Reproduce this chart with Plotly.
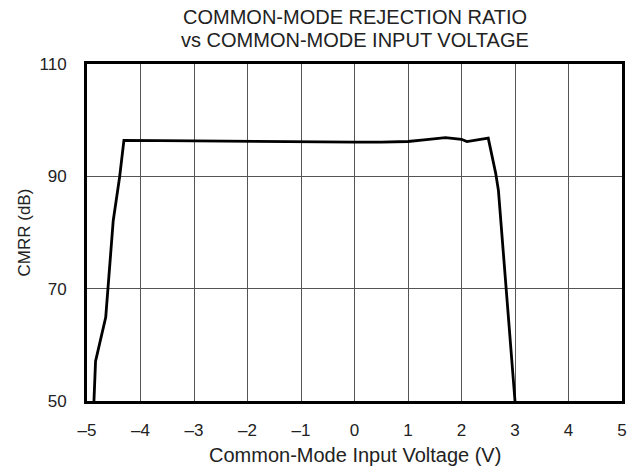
import plotly.graph_objects as go

# CMRR vs common-mode input voltage
volts = [-4.87, -4.84, -4.65, -4.51, -4.39, -4.31, -3.0, -2.0, -1.0, 0.0, 0.5, 1.0, 1.3,
         1.7, 2.0, 2.1, 2.5, 2.64, 2.69, 3.0]
cmrr = [50.0, 57.1, 64.9, 82.1, 89.9, 96.4, 96.3, 96.2, 96.1, 96.1, 96.1, 96.2, 96.5,
        96.9, 96.6, 96.2, 96.8, 90.5, 87.5, 50.0]

x_ticks = [-5, -4, -3, -2, -1, 0, 1, 2, 3, 4, 5]
x_labels = ["–5", "–4", "–3", "–2", "–1", "0", "1", "2", "3", "4", "5"]
y_ticks = [50, 70, 90, 110]

font = "Liberation Sans, Arial, sans-serif"
txt = "#222"

fig = go.Figure()
fig.add_trace(go.Scatter(x=volts, y=cmrr, mode="lines",
                         line=dict(color="black", width=2.8), showlegend=False))

fig.update_layout(
    width=628, height=471,
    margin=dict(l=87, r=6, t=64, b=70),
    paper_bgcolor="white", plot_bgcolor="white",
    font=dict(family=font, size=17, color=txt),
    annotations=[
        dict(text="COMMON-MODE REJECTION RATIO", x=0.5, y=1, xref="paper", yref="paper",
             yanchor="middle", yshift=47, showarrow=False, font=dict(size=20)),
        dict(text="vs COMMON-MODE INPUT VOLTAGE", x=0.5, y=1, xref="paper", yref="paper",
             yanchor="middle", yshift=24, showarrow=False, font=dict(size=20)),
        dict(text="Common-Mode Input Voltage (V)", x=0.5, y=0, xref="paper", yref="paper",
             yanchor="middle", yshift=-54, showarrow=False, font=dict(size=20)),
        dict(text="CMRR (dB)", x=0, y=0.5, xref="paper", yref="paper", textangle=-90,
             xanchor="center", xshift=-63, showarrow=False, font=dict(size=17)),
    ],
)
fig.update_xaxes(range=[-5, 5], tickvals=x_ticks, ticktext=x_labels,
                 showgrid=True, gridcolor="#555", gridwidth=1,
                 showline=True, linecolor="black", linewidth=3, mirror=True,
                 ticks="", zeroline=False, automargin=False, ticklabelstandoff=12)
fig.update_yaxes(range=[50, 110], tickvals=y_ticks,
                 showgrid=True, gridcolor="#555", gridwidth=1,
                 showline=True, linecolor="black", linewidth=3, mirror=True,
                 ticks="", zeroline=False, automargin=False, ticklabelstandoff=14)

# drop the default body margin so the figure fills the window exactly
fig.write_html("out.html", config={"displayModeBar": False},
               post_script="document.body.style.margin='0';document.body.style.overflow='hidden';")
